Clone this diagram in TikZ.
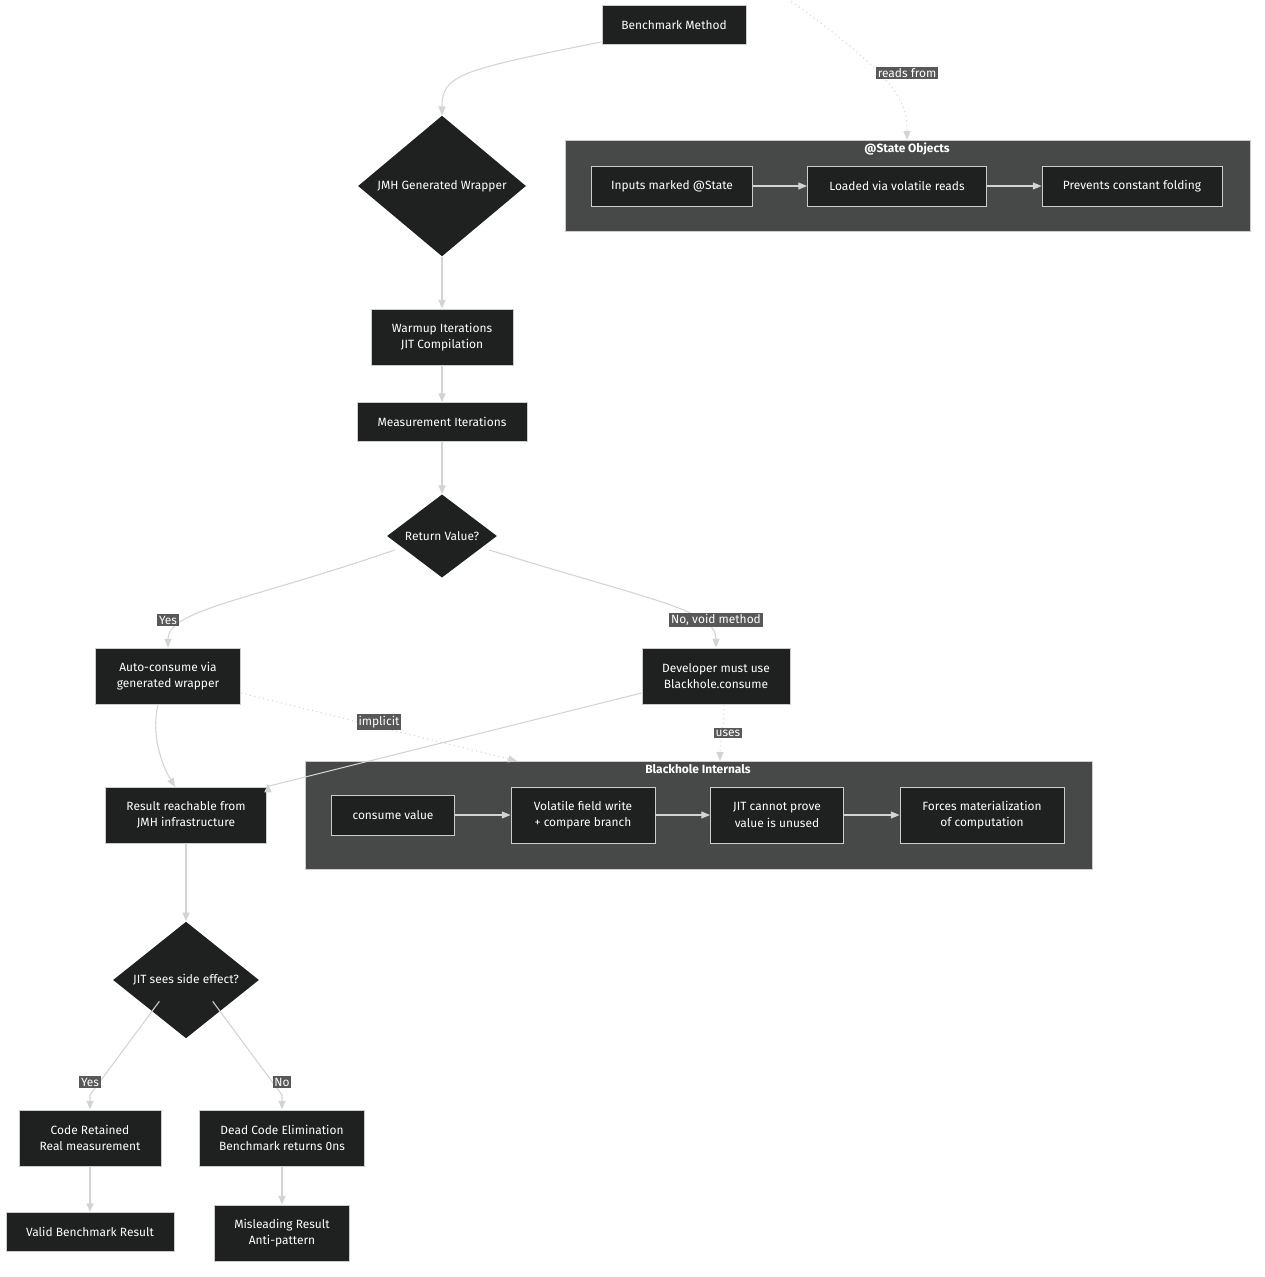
\documentclass[tikz,border=0pt]{standalone}
\usepackage{fontspec}
\setmainfont{Fira Sans}
\usetikzlibrary{arrows.meta}
\usetikzlibrary{shapes.geometric}
\definecolor{nodebg}{HTML}{1F2020}
\definecolor{nodeline}{HTML}{CCCCCC}
\definecolor{clusterbg}{HTML}{474848}
\definecolor{edgecol}{HTML}{D3D3D3}
\definecolor{labelbg}{HTML}{585858}
\tikzset{
  box/.style={draw=nodeline, fill=nodebg, text=white, align=center, inner sep=0pt, line width=0.5pt},
  choice/.style={diamond, fill=nodebg, text=white, align=center, inner sep=0pt, aspect=1},
  cluster/.style={draw=nodeline, fill=clusterbg, line width=0.5pt},
  flow/.style={draw=edgecol, line width=0.6pt, -{Triangle[length=5pt,width=4pt]}},
  weak/.style={flow, dotted},
  tag/.style={fill=labelbg, text=white, inner sep=1pt, font=\fontsize{6.8}{8}\selectfont},
}
\begin{document}
\begin{tikzpicture}[x=0.02cm, y=-0.02cm, font=\fontsize{6.8}{9.2}\selectfont]
            \useasboundingbox (0,0) rectangle (1264,1277);

            % clusters
            \draw [cluster] (565,140) rectangle (1250,231);
            \node [text=white, font=\bfseries\fontsize{6.8}{8}\selectfont] (stitle) at (907,149) {@State Objects};
            \coordinate (stop) at (907,140);
            \draw [cluster] (305,761) rectangle (1092,869);
            \node [text=white, font=\bfseries\fontsize{6.8}{8}\selectfont] (btitle) at (698,769) {Blackhole Internals};
            \coordinate (btop1) at (517,761);
            \coordinate (btop2) at (720,761);

            % main column
            \node [box, minimum width=144*0.02cm, minimum height=39*0.02cm] (bench) at (674,25) {Benchmark Method};
            \node [choice, minimum width=168*0.02cm] (jmh) at (442,186) {JMH Generated Wrapper};
            \node [box, minimum width=142*0.02cm, minimum height=56*0.02cm] (warm) at (442,337) {Warmup Iterations\\JIT Compilation};
            \node [box, minimum width=170*0.02cm, minimum height=39*0.02cm] (meas) at (442,422) {Measurement Iterations};
            \node [choice, minimum width=110*0.02cm] (ret) at (442,536) {Return Value?};
            \node [box, minimum width=145*0.02cm, minimum height=56*0.02cm] (auto) at (168,676) {Auto-consume via\\generated wrapper};
            \node [box, minimum width=148*0.02cm, minimum height=56*0.02cm] (dev) at (716,676) {Developer must use\\Blackhole.consume};
            \node [box, minimum width=161*0.02cm, minimum height=56*0.02cm] (result) at (186,815) {Result reachable from\\JMH infrastructure};
            \node [choice, minimum width=146*0.02cm] (jit) at (186,980) {JIT sees side effect?};
            \node [box, minimum width=142*0.02cm, minimum height=56*0.02cm] (kept) at (90,1138) {Code Retained\\Real measurement};
            \node [box, minimum width=165*0.02cm, minimum height=56*0.02cm] (dce) at (282,1138) {Dead Code Elimination\\Benchmark returns 0ns};
            \node [box, minimum width=168*0.02cm, minimum height=39*0.02cm] (valid) at (90,1232) {Valid Benchmark Result};
            \node [box, minimum width=135*0.02cm, minimum height=56*0.02cm] (mislead) at (282,1233) {Misleading Result\\Anti-pattern};

            % state objects
            \node [box, minimum width=161*0.02cm, minimum height=40*0.02cm] (inputs) at (672,186) {Inputs marked @State};
            \node [box, minimum width=179*0.02cm, minimum height=40*0.02cm] (loaded) at (897,186) {Loaded via volatile reads};
            \node [box, minimum width=180*0.02cm, minimum height=40*0.02cm] (prevent) at (1132,186) {Prevents constant folding};

            % blackhole internals
            \node [box, minimum width=123*0.02cm, minimum height=40*0.02cm] (consume) at (393,815) {consume value};
            \node [box, minimum width=144*0.02cm, minimum height=56*0.02cm] (volwrite) at (583,815) {Volatile field write\\+ compare branch};
            \node [box, minimum width=133*0.02cm, minimum height=56*0.02cm] (noprove) at (777,815) {JIT cannot prove\\value is unused};
            \node [box, minimum width=164*0.02cm, minimum height=56*0.02cm] (forces) at (982,815) {Forces materialization\\of computation};

            % connectors
            \draw [flow] (bench.south west) ++(0,-3) .. controls (460,70) and (442,75) .. (jmh.north);
            \draw [weak] (bench.north east) ++(0,-35) .. controls (900,75) and (907,100) .. (stop);
            \node [tag] (lreads) at (907,73) {reads from};
            \draw [flow] (jmh) -- (warm);
            \draw [flow] (warm) -- (meas);
            \draw [flow] (meas) -- (ret);
            \draw [flow] (ret.west) ++(8,14) .. controls (250,600) and (168,610) .. (auto.north);
            \node [tag] (lyes1) at (168,620) {Yes};
            \draw [flow] (ret.east) ++(-8,14) .. controls (650,600) and (716,610) .. (dev.north);
            \node [tag] (lno1) at (716,620) {No, void method};
            \draw [flow] (auto.south) ++(-10,0) .. controls (150,740) and (165,770) .. (175,787);
            \draw [weak] (auto.east) ++(0,17) -- (btop1);
            \node [tag] (limpl) at (379,722) {implicit};
            \draw [flow] (dev.west) ++(0,17) -- (result.north east) ++(1,-3);
            \draw [weak] (dev.south) ++(8,0) .. controls (724,730) and (720,745) .. (btop2);
            \node [tag] (luses) at (728,733) {uses};
            \draw [flow] (result) -- (jit);
            \draw [flow] (jit.south west) ++(10,-8) -- (90,1095) -- (kept.north);
            \node [tag] (lyes2) at (90,1082) {Yes};
            \draw [flow] (jit.south east) ++(-10,-8) -- (282,1095) -- (dce.north);
            \node [tag] (lno2) at (282,1082) {No};
            \draw [flow] (kept) -- (valid);
            \draw [flow] (dce) -- (mislead);
            \draw [flow] (inputs) -- (loaded);
            \draw [flow] (loaded) -- (prevent);
            \draw [flow] (consume) -- (volwrite);
            \draw [flow] (volwrite) -- (noprove);
            \draw [flow] (noprove) -- (forces);
\end{tikzpicture}
\end{document}
